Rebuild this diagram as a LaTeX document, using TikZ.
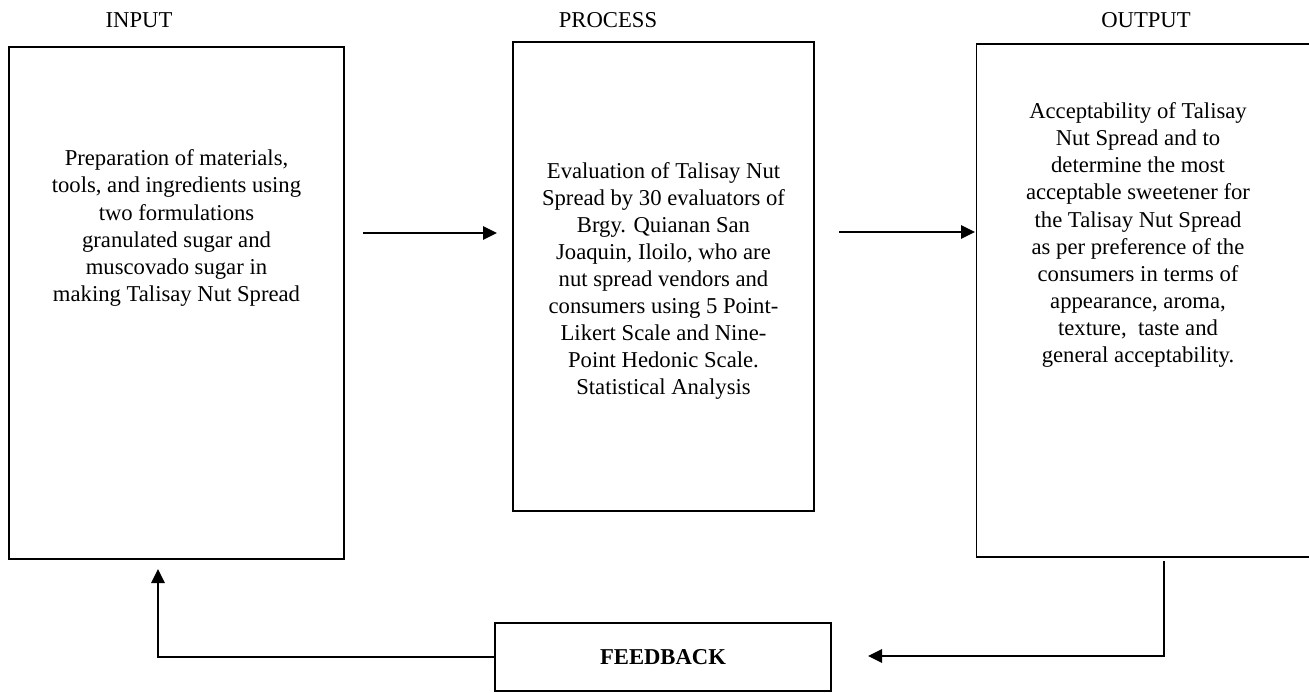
\documentclass[tikz,border=0pt]{standalone}
\usepackage{fontspec}
\setmainfont{Liberation Serif}
\usetikzlibrary{positioning,arrows.meta,calc}

\begin{document}
\begin{tikzpicture}
    [%%%%%%%%%%%%%%%%%%%%%%%%%%%%%%
        x=0.75pt,y=-0.75pt,
        box/.style={rectangle,draw=black,line width=1.1pt,inner sep=0pt},
        boxtext/.style={align=center,font=\fontsize{17}{20.3}\selectfont},
        heading/.style={font=\fontsize{17}{20}\selectfont},
        flow/.style={line width=1.5pt,-{Triangle[length=10.5pt,width=10pt]}}
    ]%%%%%%%%%%%%%%%%%%%%%%%%%%%%%%
\useasboundingbox (0,0) rectangle (1309,692);

% headings
\node[heading] (inhead) at (139,20) {INPUT};
\node[heading] (prochead) at (608,20) {PROCESS};
\node[heading] (outhead) at (1146,20) {OUTPUT};

% boxes
\node[box,minimum width=251.25pt,minimum height=384pt] (inbox) at (176.5,303) {};
\node[box,minimum width=225.75pt,minimum height=351.75pt] (procbox) at (663.5,276.5) {};
\node[box,minimum width=251.25pt,minimum height=384.75pt] (outbox) at (1144,300.5) {};
\node[box,minimum width=252pt,minimum height=51pt,font=\fontsize{17}{20}\selectfont\bfseries] (fbbox) at (663,657) {FEEDBACK};

% texts
\node[boxtext] (intext) at (176.5,228) {Preparation of materials,\\ tools, and ingredients using\\ two formulations\\ granulated sugar and\\ muscovado sugar in\\ making Talisay Nut Spread};
\node[boxtext] (proctext) at (663.5,281) {Evaluation of Talisay Nut\\ Spread by 30 evaluators of\\ Brgy. Quianan San\\ Joaquin, Iloilo, who are\\ nut spread vendors and\\ consumers using 5 Point-\\ Likert Scale and Nine-\\ Point Hedonic Scale.\\ Statistical Analysis};
\node[boxtext] (outtext) at (1138,235) {Acceptability of Talisay\\ Nut Spread and to\\ determine the most\\ acceptable sweetener for\\ the Talisay Nut Spread\\ as per preference of the\\ consumers in terms of\\ appearance, aroma,\\ texture,~ taste and\\ general acceptability.};

% arrow ends
\coordinate (inout) at (363,233);
\coordinate (procin) at (497,233);
\coordinate (procout) at (839,232);
\coordinate (outin) at (975,232);
\coordinate (fbstart) at (1164,561);
\coordinate (fbin) at (868,656);
\coordinate (inback) at (158,569);

\draw[flow] (inout) -- (procin);
\draw[flow] (procout) -- (outin);
\draw[flow] (fbstart) |- (fbin);
\draw[flow] (fbbox.west) -| (inback);

\end{tikzpicture}
\end{document}
